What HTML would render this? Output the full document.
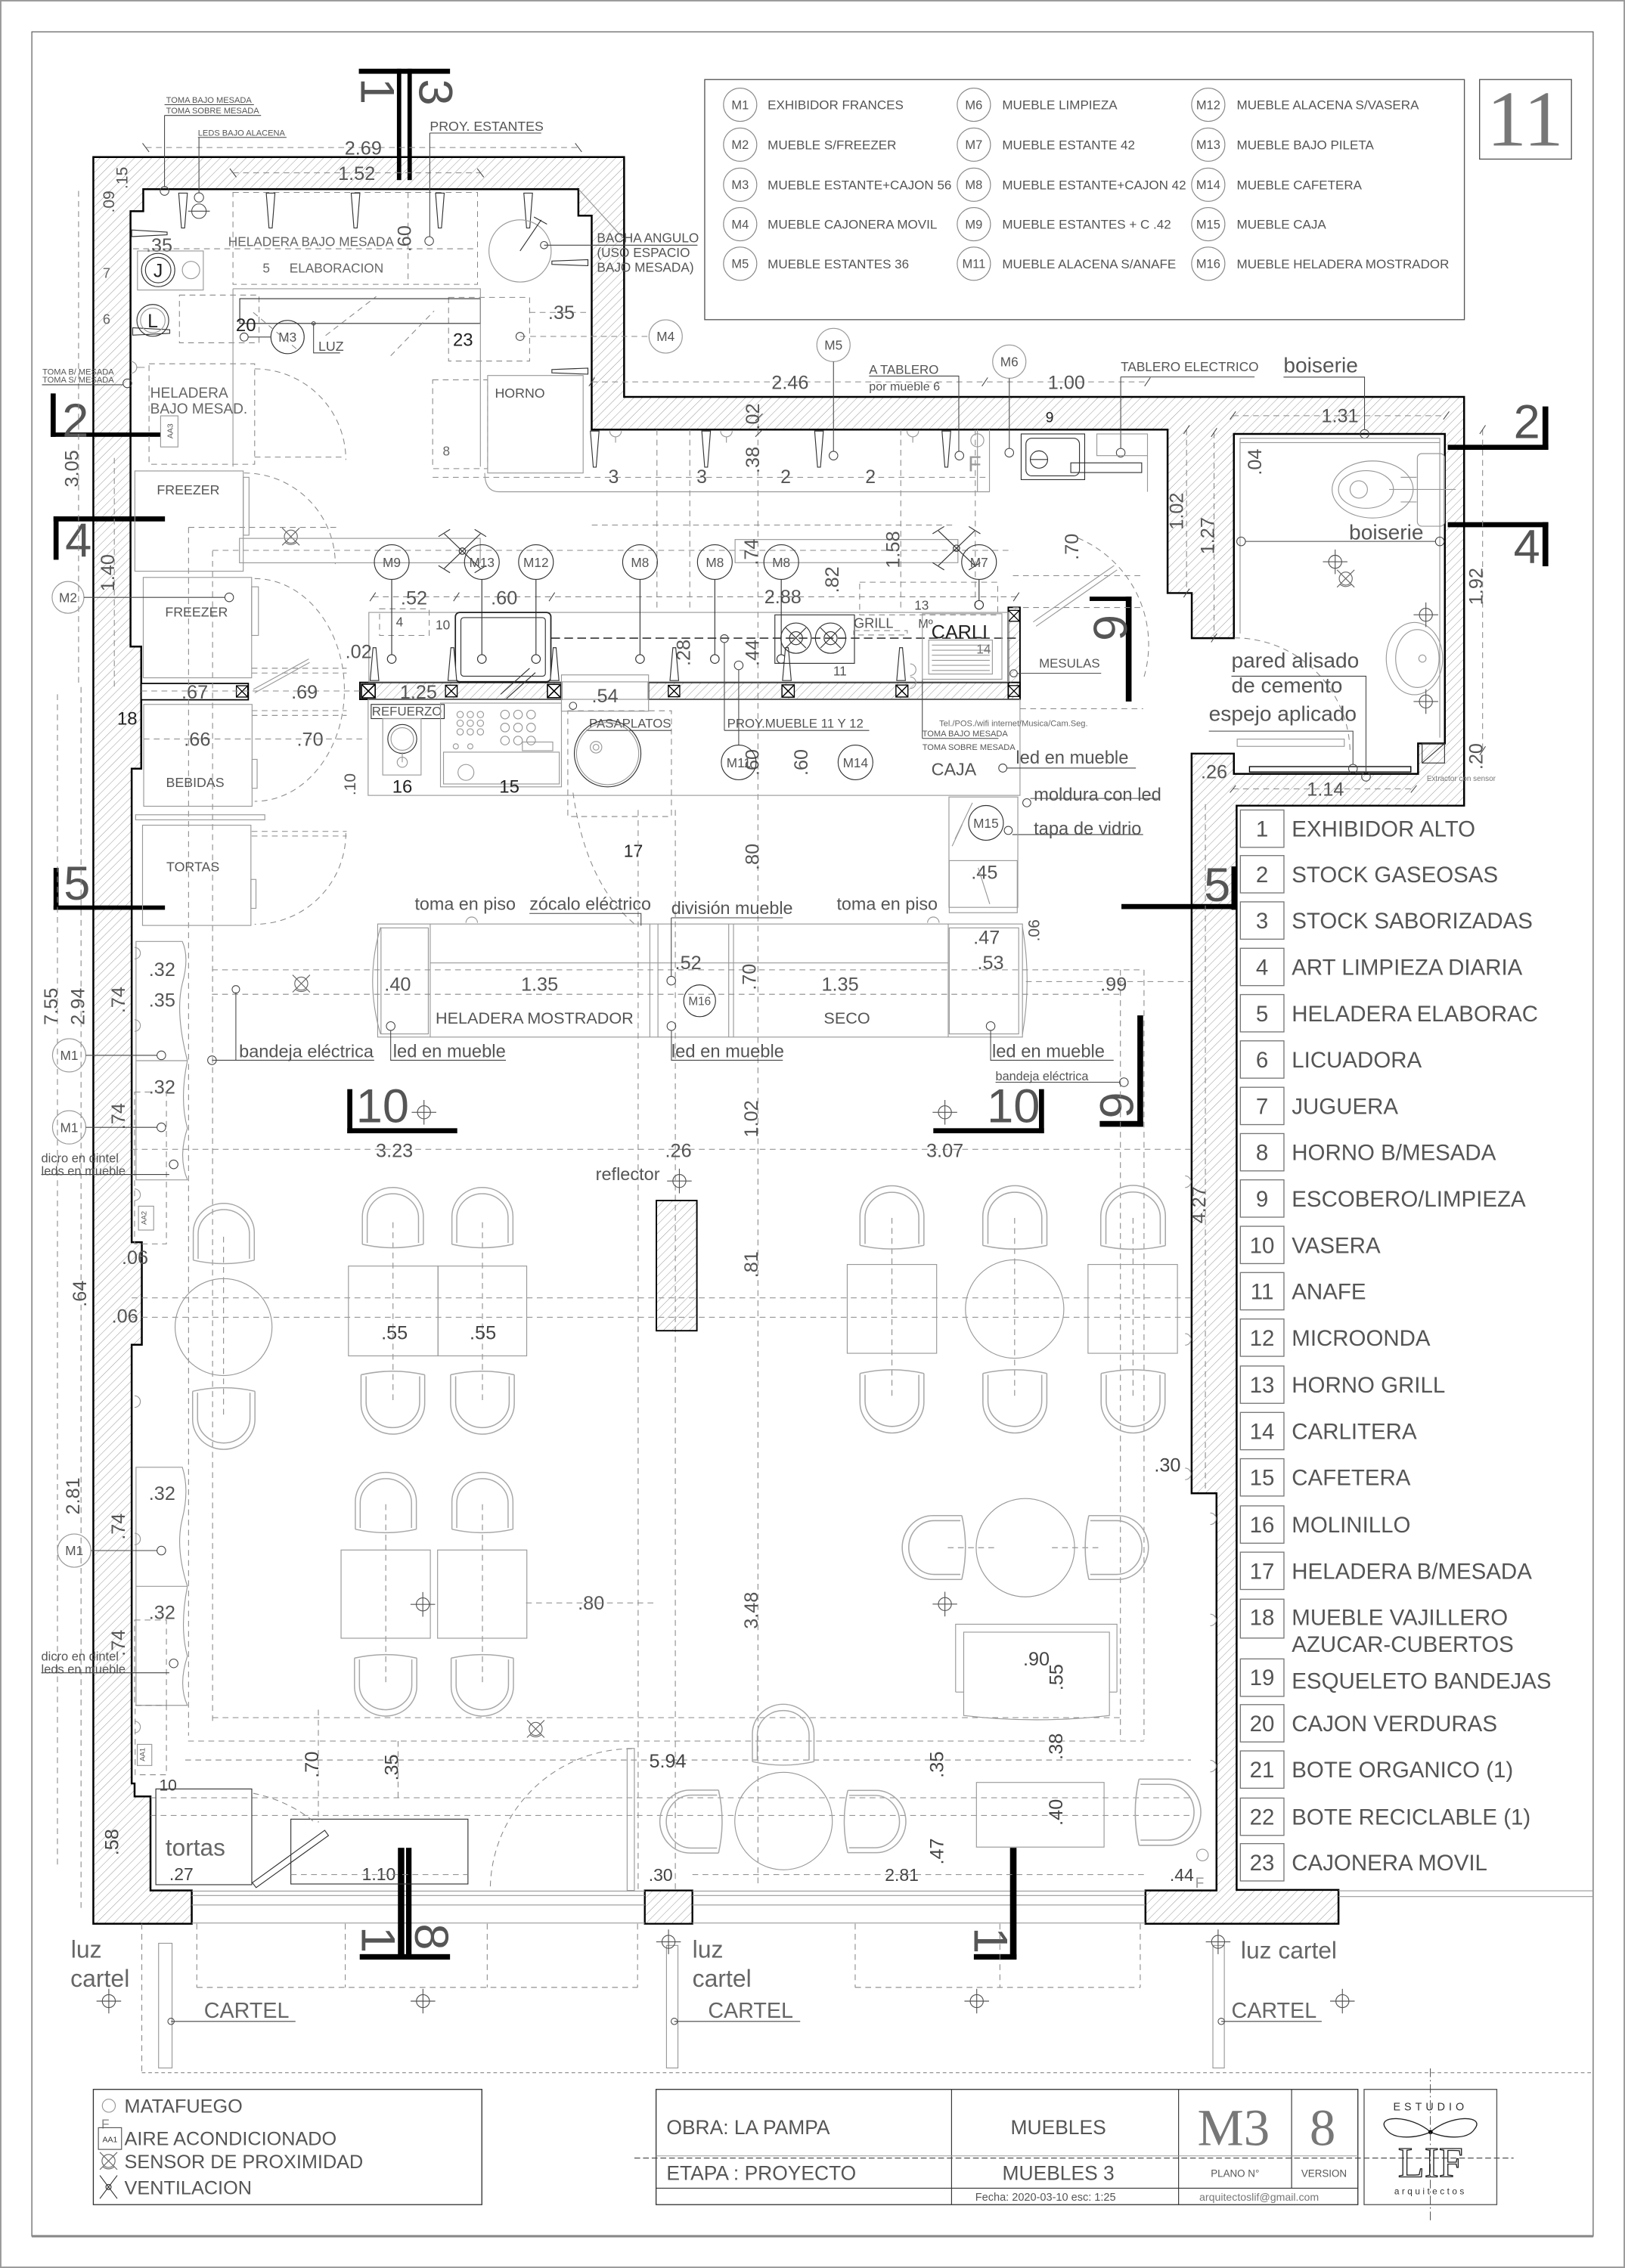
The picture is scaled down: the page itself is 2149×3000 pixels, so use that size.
<!DOCTYPE html>
<html><head><meta charset="utf-8">
<style>
html,body{margin:0;padding:0;background:#fff;}
svg{display:block;}
text{font-family:"Liberation Sans",Arial,sans-serif;fill:#555;}
.sf{font-family:"Liberation Serif","Times New Roman",serif;fill:#000;}
.k{fill:#000}
.lb{font-size:8.9px}
.dm{font-size:13.2px;fill:#444}
.sm{font-size:5.8px;fill:#444}
.big{font-size:14.7px;fill:#555}
.md{font-size:12.4px;fill:#555}
.li{font-size:15.4px;fill:#666}
.mc{font-size:9px;fill:#555}
.w{stroke:#000;stroke-width:1.3;fill:none}
.t{stroke:#333;stroke-width:0.6;fill:none}
.g{stroke:#999;stroke-width:0.6;fill:none}
.d{stroke:#888;stroke-width:0.55;stroke-dasharray:4 3;fill:none}
.dk{stroke:#444;stroke-width:0.9;stroke-dasharray:6 3;fill:none}
.l{stroke:#444;stroke-width:0.55;fill:none}
</style></head><body>
<svg xmlns="http://www.w3.org/2000/svg" width="2149" height="3000" viewBox="0 0 1123 1568" preserveAspectRatio="none">
<defs>
<pattern id="h" patternUnits="userSpaceOnUse" width="4.2" height="4.2" patternTransform="rotate(45)"><line x1="0" y1="0" x2="0" y2="4.2" stroke="#8a8a8a" stroke-width="0.45"/></pattern>
<symbol id="cu" viewBox="0 0 46 48"><g fill="none" stroke="#a8a8a8" stroke-width="0.8"><path d="M1,42 L1,22 A22,21 0 0 1 45,22 L45,42"/><path d="M4.5,41 L4.5,23 A18.5,17.5 0 0 1 41.5,23 L41.5,41"/><path d="M1,42 Q23,47 45,42"/></g></symbol>
<symbol id="cd" viewBox="0 0 46 48"><g fill="none" stroke="#a8a8a8" stroke-width="0.8"><path d="M1,6 L1,26 A22,21 0 0 0 45,26 L45,6"/><path d="M4.5,7 L4.5,25 A18.5,17.5 0 0 0 41.5,25 L41.5,7"/><path d="M1,6 Q23,1 45,6"/></g></symbol>
<symbol id="cl" viewBox="0 0 48 46"><g fill="none" stroke="#a8a8a8" stroke-width="0.8"><path d="M42,1 L22,1 A21,22 0 0 0 22,45 L42,45"/><path d="M41,4.5 L23,4.5 A17.5,18.5 0 0 0 23,41.5 L41,41.5"/><path d="M42,1 Q47,23 42,45"/></g></symbol>
<symbol id="cr" viewBox="0 0 48 46"><g fill="none" stroke="#a8a8a8" stroke-width="0.8"><path d="M6,1 L26,1 A21,22 0 0 1 26,45 L6,45"/><path d="M7,4.5 L25,4.5 A17.5,18.5 0 0 1 25,41.5 L7,41.5"/><path d="M6,1 Q1,23 6,45"/></g></symbol>
<symbol id="xh" viewBox="-9 -9 18 18"><g fill="none" stroke="#555" stroke-width="0.6"><circle r="4.5"/><path d="M-8.5,0 H8.5 M0,-8.5 V8.5"/></g></symbol>
<symbol id="xb" viewBox="0 0 10 10"><g fill="#fff" stroke="#000" stroke-width="0.8"><rect x="0.5" y="0.5" width="9" height="9"/><path d="M0.5,0.5 L9.5,9.5 M9.5,0.5 L0.5,9.5"/></g></symbol>
<symbol id="sn" viewBox="-7 -7 14 14"><g fill="none" stroke="#666" stroke-width="0.6"><circle r="4.5"/><path d="M-6,-6 L6,6 M6,-6 L-6,6 M-4,4 Q0,7 4,4"/></g></symbol>
</defs>

<!-- page frame -->
<rect x="0.5" y="0.5" width="1122" height="1567" fill="none" stroke="#999" stroke-width="1"/>
<rect x="22" y="22" width="1079" height="1524" fill="none" stroke="#555" stroke-width="0.6"/>
<line x1="22" y1="1546" x2="1101" y2="1546" stroke="#888" stroke-width="1.6"/>

<!-- legend box -->
<rect x="487" y="55" width="525" height="166" fill="none" stroke="#555" stroke-width="0.7"/>
<g fill="none" stroke="#888" stroke-width="0.6">
<circle cx="511.5" cy="72.4" r="11.5"/><circle cx="511.5" cy="100" r="11.5"/><circle cx="511.5" cy="127.7" r="11.5"/><circle cx="511.5" cy="155" r="11.5"/><circle cx="511.5" cy="182.3" r="11.5"/>
<circle cx="673" cy="72.4" r="11.5"/><circle cx="673" cy="100" r="11.5"/><circle cx="673" cy="127.7" r="11.5"/><circle cx="673" cy="155" r="11.5"/><circle cx="673" cy="182.3" r="11.5"/>
<circle cx="835" cy="72.4" r="11.5"/><circle cx="835" cy="100" r="11.5"/><circle cx="835" cy="127.7" r="11.5"/><circle cx="835" cy="155" r="11.5"/><circle cx="835" cy="182.3" r="11.5"/>
</g>
<g class="mc" text-anchor="middle" style="font-size:8.6px">
<text x="511.5" y="75.4">M1</text><text x="511.5" y="103">M2</text><text x="511.5" y="130.7">M3</text><text x="511.5" y="158">M4</text><text x="511.5" y="185.3">M5</text>
<text x="673" y="75.4">M6</text><text x="673" y="103">M7</text><text x="673" y="130.7">M8</text><text x="673" y="158">M9</text><text x="673" y="185.3">M11</text>
<text x="835" y="75.4">M12</text><text x="835" y="103">M13</text><text x="835" y="130.7">M14</text><text x="835" y="158">M15</text><text x="835" y="185.3">M16</text>
</g>
<g class="lb">
<text x="530.5" y="75.6">EXHIBIDOR FRANCES</text><text x="530.5" y="103.2">MUEBLE S/FREEZER</text><text x="530.5" y="130.9">MUEBLE ESTANTE+CAJON 56</text><text x="530.5" y="158.2">MUEBLE CAJONERA MOVIL</text><text x="530.5" y="185.5">MUEBLE ESTANTES 36</text>
<text x="692.6" y="75.6">MUEBLE LIMPIEZA</text><text x="692.6" y="103.2">MUEBLE ESTANTE 42</text><text x="692.6" y="130.9">MUEBLE ESTANTE+CAJON 42</text><text x="692.6" y="158.2">MUEBLE ESTANTES + C .42</text><text x="692.6" y="185.5">MUEBLE ALACENA S/ANAFE</text>
<text x="854.7" y="75.6">MUEBLE ALACENA S/VASERA</text><text x="854.7" y="103.2">MUEBLE BAJO PILETA</text><text x="854.7" y="130.9">MUEBLE  CAFETERA</text><text x="854.7" y="158.2">MUEBLE CAJA</text><text x="854.7" y="185.5">MUEBLE HELADERA MOSTRADOR</text>
</g>
<rect x="1022.5" y="55" width="63.5" height="55" fill="none" stroke="#555" stroke-width="0.7"/>
<text class="sf" x="1054" y="100.6" text-anchor="middle" style="font-size:55px;fill:#777">11</text>

<!-- ================= WALLS ================= -->
<path d="M64.5,1330 L64.5,108.6 L431.3,108.6 L431.3,274.4 L1011.8,274.4 L1011.8,557 L854.6,557 L854.6,1306.6 L925,1306.6 L925,1330 L791.6,1330 L791.6,1307 L840.7,1307 L840.7,1032.4 L823.5,1032.4 L823.5,521 L852.7,521 L852.7,535 L980,535 L980,514 L998.5,514 L998.5,300 L852.7,300 L852.7,441.2 L823.6,441.2 L823.6,410 L806.9,410 L806.9,297 L408.9,297 L408.9,149.1 L399.7,149.1 L399.7,130.8 L99,130.8 L99,146 L90.2,146 L90.2,447 L97.6,447 L97.6,531.4 L91,531.4 L91,858.8 L98,858.8 L98,929.7 L91,929.7 L91,1233 L93,1233 L93,1242 L104,1242 L104,1307 L132.5,1307 L132.5,1330 Z" fill="url(#h)" stroke="#000" stroke-width="1.3"/>
<rect x="445.6" y="1307" width="32.9" height="23" fill="url(#h)" stroke="#000" stroke-width="1.2"/>
<!-- kitchen partition -->
<rect x="248.7" y="471.8" width="139.3" height="11.7" fill="url(#h)" stroke="#000" stroke-width="1"/>
<rect x="448.2" y="471.8" width="256.7" height="11.7" fill="url(#h)" stroke="#000" stroke-width="1"/>
<rect x="696.8" y="419.9" width="8.1" height="63.6" fill="url(#h)" stroke="#000" stroke-width="1"/>
<rect x="97.6" y="472.5" width="74" height="11.3" fill="#fff" stroke="#000" stroke-width="0.9"/>
<use href="#xb" x="162.9" y="473" width="8.7" height="10"/>
<use href="#xb" x="248.7" y="472.5" width="11.7" height="10.5"/>
<use href="#xb" x="307.4" y="472.5" width="9" height="10.5"/>
<use href="#xb" x="377.8" y="472.5" width="10.2" height="10.5"/>
<use href="#xb" x="461.4" y="472.5" width="8.8" height="10.5"/>
<use href="#xb" x="539.9" y="472.5" width="9.5" height="10.5"/>
<use href="#xb" x="618.7" y="472.5" width="9.2" height="10.5"/>
<use href="#xb" x="696.5" y="472.5" width="8.4" height="10.5"/>
<use href="#xb" x="696.5" y="420.5" width="8.4" height="10.5"/>

<!-- window / facade -->
<g class="g">
<path d="M132.5,1307.4 H445.6 M132.5,1310.5 H445.6 M132.5,1317 H445.6 M132.5,1329.5 H445.6"/>
<path d="M478.5,1307.4 H791.6 M478.5,1310.5 H791.6 M478.5,1317 H791.6 M478.5,1329.5 H791.6"/>
<path d="M925,1307.2 H1101 M925,1311.2 H1101"/>
</g>

<!-- ================= SECTION MARKERS ================= -->
<g class="k">
<rect x="248" y="47.5" width="63" height="3.5"/><rect x="274.3" y="47.5" width="3" height="77"/><rect x="281.6" y="47.5" width="3" height="77"/>
<rect x="35" y="272" width="3.5" height="30"/><rect x="35" y="299" width="76" height="3"/>
<rect x="37" y="357" width="77" height="3.5"/><rect x="37" y="357" width="3.5" height="30"/>
<rect x="37" y="600" width="3.5" height="29"/><rect x="37" y="626" width="77" height="3"/>
<rect x="1000.5" y="307.5" width="69.5" height="3.5"/><rect x="1066" y="281" width="4" height="30"/>
<rect x="1000.5" y="361" width="69.5" height="3.5"/><rect x="1066" y="361" width="4" height="30.5"/>
<rect x="775" y="625" width="80" height="3.5"/><rect x="851" y="599" width="4" height="30"/>
<rect x="753" y="412.5" width="29" height="3"/><rect x="778" y="412.5" width="4" height="72.5"/>
<rect x="786" y="702" width="4" height="77"/><rect x="760" y="775" width="30" height="4"/>
<rect x="240" y="753" width="3.5" height="30.5"/><rect x="240" y="780" width="76" height="3.5"/>
<rect x="718" y="753" width="3.5" height="30.5"/><rect x="645" y="780" width="76.5" height="3.5"/>
<rect x="275" y="1277.5" width="4.4" height="77"/><rect x="280.6" y="1277.5" width="3.8" height="77"/><rect x="248.6" y="1351" width="62.4" height="3.8"/>
<rect x="698" y="1277.5" width="4.5" height="77"/><rect x="673" y="1351" width="29.5" height="3.8"/>
</g>
<g class="sf" style="font-size:33px">
<text transform="translate(249.4,63) rotate(90)" text-anchor="middle">1</text>
<text transform="translate(289.7,63.8) rotate(90)" text-anchor="middle">3</text>
<text x="43" y="302">2</text><text x="45" y="385">4</text><text x="44" y="622">5</text>
<text x="1046" y="303">2</text><text x="1046" y="389.5">4</text><text x="832" y="623">5</text>
<text transform="translate(756,434) rotate(90)" text-anchor="middle">6</text>
<text transform="translate(760.3,764) rotate(90)" text-anchor="middle">6</text>
<text x="246" y="776">10</text><text x="682" y="776">10</text>
<text transform="translate(250,1341) rotate(90)" text-anchor="middle">1</text>
<text transform="translate(286.8,1339) rotate(90)" text-anchor="middle">8</text>
<text transform="translate(673.4,1341.5) rotate(90)" text-anchor="middle">1</text>
</g>

<!-- ================= TOP LEFT KITCHEN ================= -->
<g class="d">
<path d="M100.8,102 H399.7"/><path d="M161,119.5 H332"/>
<path d="M54.3,132 V475"/><path d="M79,316.6 V475"/>
<rect x="161" y="133" width="169" height="63.6"/><path d="M282,133 V196.6 M92,172 H330"/>
<rect x="124" y="204" width="55" height="33"/><rect x="310" y="205.6" width="56" height="44"/>
<rect x="103" y="251.5" width="73" height="69.5"/><rect x="299" y="262.6" width="38" height="61.4"/>
<path d="M366,216 H408"/><path d="M359.4,232.6 H448"/>
<path d="M176,255 A63,63 0 0 1 239,318"/><path d="M176,316 H239"/>
<path d="M168.7,327 A63,63 0 0 1 231.7,390"/>
<path d="M130.3,364.6 H233 M130.3,364.6 V1200 M146.9,380.8 V1190 M146.9,380.5 H700"/>
<path d="M176,400 A62,77 0 0 1 176,554"/><path d="M239,576 A63,63 0 0 1 176,639"/>
<path d="M173.9,462 H239.6 M173.9,465.3 H239.6 M173.9,491.3 H239.6 M173.9,494.6 H239.6 M173.9,574.8 H239.6 M173.9,578 H239.6"/>
<path d="M97.6,477.7 H252.7 M99.3,510.9 H253.5"/>
</g>
<g class="l">
<path d="M98.5,99 L103,105 M397.5,99 L402,105 M158.8,116.5 L163.3,122.5 M329.8,116.5 L334.3,122.5"/>
</g>
<g class="dm" text-anchor="middle">
<text x="251" y="107">2.69</text><text x="246.5" y="124.5">1.52</text>
<text transform="translate(54,324) rotate(-90)">3.05</text>
<text transform="translate(79,396) rotate(-90)">1.40</text>
<text transform="translate(79,139.5) rotate(-90)" style="font-size:11px">.09</text>
<text transform="translate(88,123) rotate(-90)" style="font-size:11px">.15</text>
<text transform="translate(284,165) rotate(-90)">.60</text>
<text x="110" y="174">.35</text><text x="388" y="220.5">.35</text>
</g>
<!-- fixtures wall top -->
<g fill="#fff" stroke="#333" stroke-width="0.6">
<path d="M123.5,133.5 H129.5 L127.6,157.6 H125.4 Z"/><path d="M184,133.5 H190 L188.1,157.6 H185.9 Z"/><path d="M242.7,133.5 H248.7 L246.8,157.6 H244.6 Z"/><path d="M301,133.5 H307 L305.1,157.6 H302.9 Z"/><path d="M362,133.5 H368 L366.1,157.6 H363.9 Z"/>
<path d="M381.4,180.5 L406.3,179.5 V183.7 L381.4,182.8 Z"/><path d="M381.4,255.5 L406.3,254.5 V258.7 L381.4,257.8 Z"/>
<path d="M91.7,226.6 L117.3,228 V230.5 L91.7,231.7 Z"/><path d="M91,159 L115.5,160.5 V162.3 L91,163.6 Z"/>
</g>
<!-- top-left texts -->
<g class="sm">
<text x="114.8" y="71">TOMA BAJO MESADA</text><text x="114.8" y="78.5">TOMA SOBRE MESADA</text>
<text x="136.8" y="93.8">LEDS BAJO ALACENA</text>
<text x="29.3" y="259">TOMA B/ MESADA</text><text x="29.3" y="264.5">TOMA S/ MESADA</text>
</g>
<g class="l">
<path d="M113.7,72.4 H175.5 M113.7,79.8 H180.4 M113.7,79.8 V129"/><circle cx="113.7" cy="132" r="3"/>
<path d="M136.8,95 H198 M137.5,95 V133"/><circle cx="137.5" cy="136.5" r="3.2"/><circle cx="137.5" cy="146" r="5"/><path d="M130,146 H145"/>
<path d="M297,92 H374 M297,92 V163.5"/><circle cx="296.6" cy="166.6" r="3"/>
<path d="M29,266 H85"/><circle cx="88" cy="265" r="3"/>
</g>
<text x="297" y="90.5" style="font-size:9.3px">PROY. ESTANTES</text>
<text x="157.7" y="170" style="font-size:9px;fill:#666">HELADERA BAJO MESADA</text>
<text x="181.5" y="188.5" style="font-size:9px;fill:#666">5</text><text x="200" y="188.5" style="font-size:9px;fill:#666">ELABORACION</text>
<text x="71" y="192" style="font-size:9.5px;fill:#666">7</text><text x="71" y="224" style="font-size:9.5px;fill:#666">6</text>
<!-- J L -->
<rect x="95" y="173.5" width="45.5" height="27" class="g"/>
<circle cx="109.3" cy="186.7" r="11.5" class="t"/><circle cx="109.3" cy="186.7" r="8.8" class="t"/><circle cx="132" cy="186.7" r="6" class="g"/>
<text x="109.3" y="191.5" text-anchor="middle" style="font-size:13px;fill:#222">J</text>
<circle cx="105.6" cy="221.5" r="11" class="t"/><circle cx="105.6" cy="221.5" r="8.5" class="g"/>
<text x="105.6" y="226.3" text-anchor="middle" style="font-size:13px;fill:#222">L</text>
<!-- bacha -->
<circle cx="359.4" cy="173.5" r="21.5" class="g"/>
<path d="M359.4,173.5 L374,152 M369,150 L378,155" class="t"/>
<path d="M400,131 L431,165" class="g"/>
<circle cx="376" cy="169.5" r="2.5" class="l"/>
<path d="M376,169.5 H412.5 M412.5,169.5 H482" class="l"/>
<text x="412.5" y="167.5" style="font-size:9px">BACHA ANGULO</text><text x="412.5" y="177.8" style="font-size:9px">(USO ESPACIO</text><text x="412.5" y="188" style="font-size:9px">BAJO MESADA)</text>
<!-- bar 20/23 -->
<rect x="165.7" y="206.5" width="166.3" height="17.1" class="t"/>
<path d="M161,199.6 H332 V322.6 M161,199.6 V322.6" class="g"/>
<text x="163" y="229" style="font-size:12.5px;fill:#222">20</text><text x="313" y="239" style="font-size:12.5px;fill:#222">23</text>
<circle cx="198.7" cy="233" r="11.5" class="t"/><text x="198.7" y="236.3" text-anchor="middle" class="mc">M3</text>
<circle cx="168.7" cy="233" r="2.8" class="l"/><path d="M171.5,233 H187.2" class="l"/>
<circle cx="216.7" cy="223.6" r="1.2" class="l"/><path d="M216.7,223.6 V244 H235" class="l"/>
<text x="220" y="242.5" style="font-size:9.3px">LUZ</text>
<path d="M175,216 L207,243 M225,232 L260,205 M270,246 L300,215" class="d"/>
<circle cx="359.4" cy="232.6" r="2.8" class="l"/>
<circle cx="460" cy="232.6" r="11.5" class="g"/><text x="460" y="235.8" text-anchor="middle" class="mc">M4</text>
<!-- horno -->
<rect x="337" y="259.6" width="66" height="67.4" class="g"/>
<text x="342" y="275" style="font-size:9.3px">HORNO</text><text x="306" y="315" style="font-size:9px;fill:#666">8</text>
<!-- heladera bajo mesad -->
<text x="103.8" y="275" style="font-size:10px;fill:#666">HELADERA</text><text x="103.8" y="285.8" style="font-size:10px;fill:#666">BAJO MESAD.</text>
<rect x="111" y="287.5" width="12" height="21.5" class="g"/>
<text transform="translate(119.5,298) rotate(-90)" text-anchor="middle" style="font-size:5.5px">AA3</text>
<!-- outlet left -->
<path d="M90.5,250 A4,4 0 0 1 90.5,258 M94.5,254 H100" class="g"/>

<!-- freezer area -->
<g class="g">
<rect x="93.2" y="325.6" width="74.9" height="69.3"/><rect x="99" y="399.2" width="74.9" height="69.4"/>
<rect x="168.1" y="330" width="4" height="40"/><rect x="173.9" y="405.7" width="4.7" height="33.6"/>
<rect x="99.3" y="487" width="74.9" height="70.4"/><rect x="93.7" y="563.3" width="89.3" height="3.5"/><rect x="98.5" y="570.5" width="74.9" height="69.3"/>
<rect x="174.2" y="525" width="3.5" height="20"/><rect x="173.4" y="608" width="3.5" height="20"/>
<path d="M175.1,476.6 L213.4,455.6 M176,479 L214,458"/>
</g>
<g style="font-size:9.3px;fill:#666">
<text x="108.4" y="341.8">FREEZER</text><text x="114.1" y="426.3">FREEZER</text><text x="114.7" y="544">BEBIDAS</text><text x="115" y="602.5">TORTAS</text>
</g>
<text x="81" y="501" style="font-size:12.5px;fill:#222">18</text>
<g class="dm" text-anchor="middle">
<text x="134.6" y="483">.67</text><text x="210.4" y="483">.69</text><text x="136.3" y="515.6">.66</text><text x="214.3" y="515.6">.70</text>
</g>
<circle cx="47" cy="413" r="11" class="g"/><text x="47" y="416.2" text-anchor="middle" class="mc">M2</text>
<path d="M58,413 H155.4" class="l"/><circle cx="158.4" cy="413" r="3" class="l"/>
<use href="#sn" x="194" y="364" width="14" height="14"/>
<rect x="165.5" y="372.2" width="166.4" height="16.9" class="g"/>
<rect x="508" y="373" width="154" height="16" class="g"/>
<!-- fans -->
<g class="t"><path d="M307,369 L332,393 M332,369 L307,393 M303,371 L311,366 M328,396 L336,391 M328,366 L336,371 M303,391 L311,396"/><circle cx="319.5" cy="381" r="2.2"/></g>
<g class="t"><path d="M648.5,367 L673.5,391 M673.5,367 L648.5,391 M644.5,369 L652.5,364 M669.5,394 L677.5,389 M669.5,364 L677.5,369 M644.5,389 L652.5,394"/><circle cx="661" cy="379" r="2.2"/></g>

<!-- ================= CORRIDOR ================= -->
<g class="d">
<path d="M409,264 H793"/><path d="M299,330 H684"/><path d="M409,363 H660"/>
<path d="M454,297 V420 M476.7,297 V420 M523.8,297 V1305 M622.5,297 V420 M674,297 V420"/>
<path d="M524,286 V297 M820,297 V410 M839,299 V441 M1024.6,297 V519"/>
<path d="M852,287.4 H999.5 M852,545.4 H977"/>
<path d="M833,556 V1032"/>
</g>
<g class="l"><path d="M407,267 L411,261 M678.6,267 L682.6,261 M791,267 L795,261 M522,291 L527,286 M522,302 L527,297 M850,290 L854,284.5 M997.5,290 L1001.5,284.5 M818,300 L822,294 M818,413 L822,407 M837,302 L841,296 M837,444 L841,438 M1022.6,300 L1026.6,294 M1022.6,522 L1026.6,516 M850,548 L854,543 M975,548 L979,543"/></g>
<g class="dm" text-anchor="middle">
<text x="546" y="269">2.46</text><text x="737" y="269">1.00</text>
<text transform="translate(524.6,288) rotate(-90)">.02</text><text transform="translate(524.6,318) rotate(-90)">.38</text>
<text x="926" y="292">1.31</text>
<text transform="translate(817.6,353.4) rotate(-90)">1.02</text><text transform="translate(839,370.4) rotate(-90)">1.27</text>
<text transform="translate(871.7,319.4) rotate(-90)">.04</text>
<text transform="translate(1024.6,405.4) rotate(-90)">1.92</text><text transform="translate(1024.6,523) rotate(-90)">.20</text>
<text x="839" y="538">.26</text><text x="916" y="550">1.14</text>
<text transform="translate(832.9,833) rotate(-90)">4.27</text>
</g>
<g style="font-size:13px;fill:#444" text-anchor="middle"><text x="424" y="334">3</text><text x="485" y="334">3</text><text x="543" y="334">2</text><text x="601.6" y="334">2</text></g>
<g fill="#fff" stroke="#333" stroke-width="0.6">
<path d="M408,298 H414 L412,323 H410 Z"/><path d="M485,298 H491 L489,323 H487 Z"/><path d="M563,298 H569 L567,323 H565 Z"/><path d="M651,298 H657 L655,323 H653 Z"/>
</g>
<g class="g"><path d="M421.4,298 A4,4 0 0 0 429.4,298 M425.4,302 V306"/><path d="M498,298 A4,4 0 0 0 506,298 M502,302 V306"/><path d="M626.8,298 A4,4 0 0 0 634.8,298 M630.8,302 V306"/></g>
<path d="M335,327 Q335,340 345,340 H684" class="g"/>
<path d="M683.8,297 V340 M675.5,297 V340 M793,315 V340" class="g"/>
<circle cx="576" cy="238.5" r="11.5" class="g"/><text x="576" y="241.7" text-anchor="middle" class="mc">M5</text>
<circle cx="697.5" cy="250" r="11.5" class="g"/><text x="697.5" y="253.2" text-anchor="middle" class="mc">M6</text>
<g class="l">
<path d="M576,250 V312 M697.5,261.5 V310 M600.6,260 H662.6 V312 M774.5,260.6 H867 M774.5,260.6 V310"/>
<circle cx="576" cy="315" r="3"/><circle cx="697.5" cy="313" r="3"/><circle cx="663" cy="315" r="3"/><circle cx="774.5" cy="313" r="3"/>
</g>
<text x="600.6" y="258.5" style="font-size:8.8px">A TABLERO</text><text x="600.6" y="270" style="font-size:8.4px">por mueble 6</text>
<text x="774.5" y="256.5" style="font-size:9px">TABLERO ELECTRICO</text>
<text x="722.6" y="292" style="font-size:10px;fill:#222">9</text>
<rect x="705.7" y="300" width="43.9" height="31.6" class="t"/><rect x="709" y="303" width="37" height="26" rx="4" class="t"/>
<circle cx="718" cy="317.7" r="6" class="t"/><path d="M712,317.7 H724" class="t"/>
<rect x="740" y="320" width="49" height="6.7" class="t"/>
<rect x="758" y="300" width="35" height="15" class="g"/>
<circle cx="675.4" cy="304.4" r="4.5" class="g"/>
<text x="669" y="326" style="font-size:15px;fill:#999">F</text>
<text x="887" y="257.5" class="big">boiserie</text>
<path d="M887,260.7 H943 V297" class="l"/><circle cx="943" cy="300" r="3" class="l"/>

<!-- ================= BATHROOM ================= -->
<rect x="857" y="303" width="138" height="3" class="g"/>
<path d="M857,306 V438 M995,306 V510" class="g"/>
<rect x="979.5" y="313.6" width="18.8" height="50.2" rx="3" class="g"/>
<ellipse cx="948.6" cy="338.4" rx="28" ry="19.7" class="g"/><ellipse cx="944" cy="338.4" rx="19" ry="13" class="g"/><circle cx="939" cy="338.4" r="6" class="g"/>
<path d="M968,330 H979 M968,347 H979 M960,338.4 H1006" class="g"/>
<text x="932.3" y="373" class="big">boiserie</text>
<path d="M860.7,374.3 H992" class="l"/><circle cx="857.7" cy="374.3" r="3" class="l"/><circle cx="995" cy="374.3" r="3" class="l"/>
<use href="#xh" x="913.7" y="379.4" width="18" height="18"/>
<use href="#sn" x="923" y="393" width="14" height="14"/>
<ellipse cx="977.5" cy="455.3" rx="19.5" ry="25" class="g"/><ellipse cx="979.5" cy="455.3" rx="15" ry="20" class="g"/><circle cx="983" cy="455.3" r="2.5" class="g"/>
<use href="#xh" x="976.4" y="416" width="18" height="18"/><use href="#xh" x="976.4" y="476" width="18" height="18"/>
<path d="M853,441 A80,80 0 0 1 933,521" class="d"/>
<rect x="855" y="511" width="74" height="5" class="g"/>
<rect x="863.5" y="530" width="111.5" height="3.7" fill="none" stroke="#000" stroke-width="0.7"/>
<rect x="982.8" y="514" width="15.5" height="13.5" class="t"/><path d="M982.8,527.5 L998.3,514" class="t"/>
<text x="986" y="540" style="font-size:5.2px;fill:#777">Extractor con sensor</text>
<text x="851" y="461.4" class="big">pared alisado</text><text x="851" y="478.8" class="big">de cemento</text><text x="835.4" y="498.4" class="big">espejo aplicado</text>
<path d="M851,467.5 H944 V534 M835.4,505.5 H935 V528.4" class="l"/>
<circle cx="944" cy="537" r="3" class="l"/><circle cx="935" cy="531.4" r="3" class="l"/>

<!-- ================= KITCHEN WORK ZONE ================= -->
<g class="g">
<rect x="254.9" y="423.4" width="441.9" height="48"/>
<rect x="254.4" y="483.5" width="450.5" height="66.4"/>
</g>
<g class="d">
<path d="M257.6,412.6 H702.3"/>
<rect x="262.3" y="420.9" width="34.3" height="18.4"/><rect x="594.1" y="402.5" width="95.4" height="22.6"/>
<rect x="392.4" y="491.4" width="71.6" height="73.1"/>
<path d="M745,372 A80,80 0 0 1 790,470"/><path d="M396,548 Q405,612 440,640"/>
<path d="M700,398 H790 M700,420 H790 M705,490 H790"/>
</g>
<path d="M381,441.2 H702" class="dk"/>
<g class="l"><path d="M255.6,415.6 L259.6,409.6 M313.4,415.6 L317.4,409.6 M379.4,415.6 L383.4,409.6 M700.3,415.6 L704.3,409.6"/></g>
<g class="dm" text-anchor="middle">
<text x="286.1" y="417.8">.52</text><text x="348.4" y="417.8">.60</text><text x="541" y="417">2.88</text>
<text transform="translate(523.7,381.6) rotate(-90)">.74</text><text transform="translate(579.5,400.8) rotate(-90)">.82</text>
<text transform="translate(621.6,380) rotate(-90)">1.58</text><text transform="translate(745.2,378) rotate(-90)">.70</text>
<text transform="translate(476.8,451.3) rotate(-90)">.28</text><text transform="translate(524.5,451.3) rotate(-90)">.44</text>
<text x="247.8" y="455">.02</text><text x="289.2" y="483">1.25</text><text x="418.1" y="485.5">.54</text>
<text transform="translate(245.7,542.3) rotate(-90)" style="font-size:11px">.10</text>
<text transform="translate(524.5,527.1) rotate(-90)">.60</text><text transform="translate(558.2,527.1) rotate(-90)">.60</text>
<text transform="translate(524.5,592.4) rotate(-90)">.80</text>
<text x="680.3" y="607.5">.45</text>
</g>
<!-- M circles row -->
<g class="t">
<circle cx="270.7" cy="388.6" r="12"/><circle cx="333" cy="388.6" r="12"/><circle cx="370.4" cy="388.6" r="12"/><circle cx="442.3" cy="388.6" r="12"/><circle cx="494" cy="388.6" r="12"/><circle cx="539.9" cy="388.6" r="12"/><circle cx="676.6" cy="388.6" r="12"/>
<path d="M270.7,400.6 V452.6 M333,400.6 V452.6 M370.4,400.6 V452.6 M442.3,400.6 V452.6 M494,400.6 V452.6 M539.9,400.6 V452.6 M676.6,400.6 V415"/>
<circle cx="270.7" cy="455.6" r="3"/><circle cx="333" cy="455.6" r="3"/><circle cx="370.4" cy="455.6" r="3"/><circle cx="442.3" cy="455.6" r="3"/><circle cx="494" cy="455.6" r="3"/><circle cx="539.9" cy="455.6" r="3"/><circle cx="676.6" cy="418.2" r="3"/>
</g>
<g class="mc" text-anchor="middle">
<text x="270.7" y="391.9">M9</text><text x="333" y="391.9">M13</text><text x="370.4" y="391.9">M12</text><text x="442.3" y="391.9">M8</text><text x="494" y="391.9">M8</text><text x="539.9" y="391.9">M8</text><text x="676.6" y="391.9">M7</text>
</g>
<text x="273.6" y="433" style="font-size:9px">4</text><text x="301" y="435" style="font-size:9px">10</text>
<!-- sink -->
<rect x="314.7" y="423.4" width="66" height="47.9" rx="3" fill="none" stroke="#222" stroke-width="0.9"/>
<rect x="318.5" y="427" width="58.4" height="40.5" rx="2" class="t"/>
<path d="M346,480 L366,462 M350,483 L370,465" class="t"/>
<!-- wall lights -->
<g fill="#fff" stroke="#333" stroke-width="0.6">
<path d="M255.8,470.5 H261.8 L259.8,447.8 H257.8 Z"/><path d="M309.6,470.5 H315.6 L313.6,447.8 H311.6 Z"/><path d="M380.3,470.5 H386.3 L384.3,447.8 H382.3 Z"/><path d="M463,470.5 H469 L467,447.8 H465 Z"/><path d="M540.8,470.5 H546.8 L544.8,447.8 H542.8 Z"/><path d="M619.7,470.5 H625.7 L623.7,447.8 H621.7 Z"/>
</g>
<!-- cooktop -->
<rect x="535.5" y="425.1" width="55" height="33.5" class="t"/>
<g class="t"><circle cx="550.1" cy="441.2" r="10.5"/><circle cx="550.1" cy="441.2" r="4.5"/><path d="M543,434 L557,448 M557,434 L543,448"/><circle cx="574" cy="441.2" r="10.5"/><circle cx="574" cy="441.2" r="4.5"/><path d="M567,434 L581,448 M581,434 L567,448"/></g>
<text x="575.8" y="467" style="font-size:9px">11</text><text x="631.9" y="421.5" style="font-size:9px">13</text>
<text x="590" y="434" style="font-size:9.5px">GRILL</text><text x="634.5" y="434" style="font-size:8.5px">Mº</text>
<rect x="590" y="436" width="37" height="3" class="d"/>
<rect x="637.4" y="424.3" width="55" height="45.3" class="g"/>
<text x="643.6" y="441.5" style="font-size:13.2px;fill:#222">CARLI</text>
<rect x="641.8" y="442.5" width="44" height="23.5" class="g"/>
<path d="M644,446 H684 M644,449.5 H684 M644,453 H684 M644,456.5 H684 M644,460 H684 M644,463.5 H684" class="g"/>
<text x="674.8" y="451.8" style="font-size:9px;fill:#777">14</text>
<circle cx="700.5" cy="465.5" r="2.5" class="l"/><path d="M703,465.5 H761" class="l"/>
<text x="718.1" y="461.5" style="font-size:8.8px">MESULAS</text>
<g class="g"><path d="M629,459 A4,4 0 0 1 629,467 M629,468 A4,4 0 0 1 629,476"/></g>
<!-- front counter -->
<rect x="256.5" y="487" width="50.5" height="9.8" class="t"/>
<text x="257" y="494.6" style="font-size:8.8px">REFUERZO</text>
<rect x="264.5" y="496.8" width="26.5" height="39" class="g"/>
<circle cx="278" cy="510.9" r="10" class="t"/><circle cx="278" cy="510.9" r="7.8" class="g"/><circle cx="278" cy="527" r="3.5" class="g"/><path d="M278,520 V527" class="g"/>
<text x="278" y="548" text-anchor="middle" style="font-size:12.5px;fill:#222">16</text>
<rect x="304.4" y="486.1" width="83.6" height="57.9" class="g"/>
<rect x="306.5" y="520" width="80" height="22" class="g"/>
<g class="g">
<circle cx="318" cy="494" r="2.2"/><circle cx="325" cy="494" r="2.2"/><circle cx="332" cy="494" r="2.2"/><circle cx="318" cy="500" r="2.2"/><circle cx="325" cy="500" r="2.2"/><circle cx="332" cy="500" r="2.2"/><circle cx="318" cy="506" r="2.2"/><circle cx="325" cy="506" r="2.2"/><circle cx="332" cy="506" r="2.2"/>
<circle cx="349" cy="494" r="3"/><circle cx="358" cy="494" r="3"/><circle cx="367" cy="494" r="3"/><circle cx="349" cy="503" r="3"/><circle cx="358" cy="503" r="3"/><circle cx="367" cy="503" r="3"/><circle cx="349" cy="512" r="3"/><circle cx="358" cy="512" r="3"/><circle cx="367" cy="512" r="3"/>
<circle cx="315" cy="516" r="1.8"/><circle cx="325" cy="516" r="1.8"/><rect x="361" y="513" width="21" height="6"/><circle cx="322" cy="534" r="5.5"/>
</g>
<text x="352" y="548" text-anchor="middle" style="font-size:12.5px;fill:#222">15</text>
<rect x="388" y="466.6" width="60.2" height="25.1" class="g"/>
<text x="407.1" y="503" style="font-size:8.8px">PASAPLATOS</text><path d="M405,505 H464" class="l"/>
<circle cx="396" cy="488" r="2.5" class="l"/>
<circle cx="419.9" cy="521" r="23" class="t"/><circle cx="419.9" cy="521" r="21.5" class="g"/><circle cx="411.9" cy="516.6" r="4" class="g"/><circle cx="411.9" cy="516.6" r="2" class="g"/>
<text x="431" y="592.5" style="font-size:12px;fill:#222">17</text>
<text x="502.5" y="503" style="font-size:8.8px">PROY.MUEBLE 11 Y 12</text><path d="M500.6,505 H600.7 M500.6,444 V505" class="l"/><circle cx="500.6" cy="441.5" r="2.7" class="l"/>
<circle cx="510.5" cy="527.1" r="12" class="t"/><text x="510.5" y="530.4" text-anchor="middle" class="mc">M11</text>
<path d="M510.5,515 V463" class="l"/><circle cx="510.5" cy="460" r="3" class="l"/>
<circle cx="591.2" cy="527.1" r="12" class="t"/><text x="591.2" y="530.4" text-anchor="middle" class="mc">M14</text>
<text x="649.1" y="502" style="font-size:5.8px;fill:#666">Tel./POS./wifi internet/Musica/Cam.Seg.</text>
<text x="637.4" y="509" style="font-size:5.8px;fill:#555">TOMA BAJO MESADA</text><text x="637.4" y="518.4" style="font-size:5.8px;fill:#555">TOMA SOBRE MESADA</text>
<path d="M637.4,510.5 H690 M637.4,510.5 V470" class="l"/>
<text x="643.6" y="536" style="font-size:12.2px">CAJA</text>
<circle cx="693" cy="531" r="2.8" class="l"/><path d="M695.8,531 H785" class="l"/>
<text x="702" y="528" class="md">led en mueble</text>
<circle cx="709.6" cy="555" r="2.8" class="l"/><path d="M712,552 H800" class="l"/>
<text x="714.4" y="553.5" class="md">moldura con led</text>
<circle cx="696.8" cy="574.1" r="2.8" class="l"/><path d="M699.6,577 H790" class="l"/>
<text x="714.4" y="577" class="md">tapa de vidrio</text>
<rect x="655.8" y="551" width="47.6" height="76.3" class="g"/>
<path d="M660,580 L672,555 M658,585 L665,570" class="g"/>
<circle cx="681.4" cy="568.9" r="12" class="t"/><text x="681.4" y="572.2" text-anchor="middle" class="mc">M15</text>
<!-- arcs hall top -->
<path d="M714,430 L770,391 M716,433 L772,394" class="g"/>

<!-- ================= COUNTER ISLAND ================= -->
<g class="g">
<rect x="261" y="638.8" width="445.6" height="78.2"/>
<path d="M297.3,665.7 H655.3"/>
<path d="M297.3,638.8 V717 M449.1,638.8 V717 M454.7,638.8 V717 M503.6,638.8 V717 M506.9,638.8 V717 M655.3,638.8 V717"/>
<rect x="263.3" y="641.5" width="32.7" height="73.3"/><rect x="656" y="641.5" width="48" height="73.3"/>
<path d="M263,641 Q252,678 263,715 M706.6,641 Q713,678 706.6,715"/>
<rect x="656" y="595" width="47" height="36"/><path d="M676,600 L684,625"/>
</g>
<g class="d">
<path d="M146.5,670.5 H790.6 M146.5,687.4 H774.3 M709,678.6 H823"/>
<path d="M774.3,670.5 V1203 M790.6,670.5 V1203"/>
<path d="M91,794.6 H823"/>
<path d="M441,560 V1307 M466.7,560 V1307"/>
</g>
<g class="g"><path d="M322,638 A4,4 0 0 1 330,638 M641,638 A4,4 0 0 1 649,638"/></g>
<text x="286.6" y="629" style="font-size:12.2px">toma en piso</text>
<text x="365.9" y="629" style="font-size:12.2px">zócalo eléctrico</text>
<path d="M365.9,631.5 H443 V640" class="l"/>
<text x="463.9" y="632" style="font-size:12.2px">división mueble</text>
<path d="M463.9,634.5 H541 M463.9,634.5 V675" class="l"/><circle cx="463.9" cy="678" r="3" class="l"/>
<text x="578.2" y="629" style="font-size:12.2px">toma en piso</text>
<text x="369.4" y="707.8" text-anchor="middle" style="font-size:11.3px;fill:#555">HELADERA MOSTRADOR</text>
<text x="585.3" y="707.8" text-anchor="middle" style="font-size:11.3px;fill:#555">SECO</text>
<circle cx="483.5" cy="691.9" r="11" class="t"/><text x="483.5" y="694.9" text-anchor="middle" style="font-size:8px">M16</text>
<use href="#sn" x="201.2" y="673" width="14" height="14"/>
<g class="dm" text-anchor="middle">
<text x="274.8" y="685">.40</text><text x="372.9" y="685">1.35</text><text x="580.6" y="685">1.35</text>
<text x="475.6" y="670">.52</text><text x="684.6" y="670">.53</text><text x="681.8" y="652.6">.47</text>
<text transform="translate(522.2,675.4) rotate(-90)">.70</text>
<text transform="translate(718.2,643.3) rotate(-90)" style="font-size:11px">.06</text>
<text x="769.6" y="685">.99</text>
<text x="272.6" y="800">3.23</text><text x="468.8" y="800">.26</text><text x="653" y="800">3.07</text>
<text transform="translate(523.6,773.5) rotate(-90)">1.02</text>
<text transform="translate(523.6,874.3) rotate(-90)">.81</text>
<text transform="translate(523.5,1113.4) rotate(-90)">3.48</text>
<text x="408.5" y="1112.8">.80</text>
</g>
<path d="M363.5,1108.2 H453.4" class="d"/>
<text x="165.2" y="731" style="font-size:12.3px">bandeja eléctrica</text>
<path d="M146.5,733 H258.6 M163,686 V733" class="l"/><circle cx="146.5" cy="733" r="3" class="l"/><circle cx="163" cy="684" r="2.6" class="l"/>
<text x="271.6" y="731" class="md">led en mueble</text><path d="M270,712.4 V733 H349.6" class="l"/><circle cx="270" cy="709.4" r="3" class="l"/>
<text x="464" y="731" class="md">led en mueble</text><path d="M464,712.4 V733 H541" class="l"/><circle cx="464" cy="709.4" r="3" class="l"/>
<text x="685.6" y="731" class="md">led en mueble</text><path d="M684.6,712.4 V733 H769.6" class="l"/><circle cx="684.6" cy="709.4" r="3" class="l"/>
<text x="688" y="747" style="font-size:8.5px">bandeja eléctrica</text><path d="M688,748.2 H773.7" class="l"/><circle cx="776.7" cy="748.2" r="3" class="l"/>
<use href="#xh" x="284" y="760" width="18" height="18"/>
<use href="#xh" x="644" y="760" width="18" height="18"/>
<text x="456" y="816" text-anchor="end" style="font-size:12.3px">reflector</text>
<use href="#xh" x="460.5" y="807.5" width="18" height="18"/>
<rect x="453.6" y="830" width="28" height="90" fill="url(#h)" stroke="#000" stroke-width="1"/>

<!-- ================= LEFT WALL (M1) ================= -->
<g class="d">
<path d="M39.7,480 V1290 M56,475 V1320"/>
<path d="M91,897.3 H823 M91,910.7 H823"/>
</g>
<g class="dm" text-anchor="middle">
<text transform="translate(39.7,695.8) rotate(-90)">7.55</text><text transform="translate(58.3,695.8) rotate(-90)">2.94</text>
<text transform="translate(86.3,691.3) rotate(-90)">.74</text><text transform="translate(86.3,771.8) rotate(-90)">.74</text>
<text transform="translate(59.5,894.4) rotate(-90)">.64</text><text transform="translate(54.8,1034.3) rotate(-90)">2.81</text>
<text transform="translate(86.3,1055.4) rotate(-90)">.74</text><text transform="translate(86.3,1135.9) rotate(-90)">.74</text>
<text x="112" y="674.7">.32</text><text x="112" y="695.9">.35</text><text x="112" y="756">.32</text>
<text x="93.3" y="874">.06</text><text x="86.3" y="914.3">.06</text>
<text x="112" y="1037">.32</text><text x="112" y="1119.4">.32</text>
</g>
<g class="g">
<path d="M94,650.9 H126 Q131,662 126,680 Q121,700 129.5,733.3 Q124,760 129.5,780 Q123,800 129.5,815.7 H94 Z M94,733.3 H129.5"/>
<path d="M94,1014.4 H126 Q131,1030 126,1050 Q121,1070 129.5,1096.7 Q124,1125 129.5,1145 Q123,1165 129.5,1179 H94 Z M94,1096.7 H129.5"/>
<rect x="95.7" y="833.9" width="10.5" height="16.5"/>
<rect x="94.9" y="1206" width="10" height="14.6"/>
<path d="M93,655 A4,4 0 0 1 93,663 M93,705 A4,4 0 0 1 93,713 M93,822 A4,4 0 0 1 93,830 M93,965 A4,4 0 0 1 93,973 M93,1060 A4,4 0 0 1 93,1068 M93,1190 A4,4 0 0 1 93,1198"/>
</g>
<rect x="93" y="755" width="22" height="105" class="d"/><rect x="93" y="1120" width="22" height="59" class="d"/><rect x="93.4" y="1179" width="21.6" height="48" class="d"/>
<text transform="translate(101,842) rotate(-90)" text-anchor="middle" style="font-size:5px">AA2</text>
<text transform="translate(100,1213) rotate(-90)" text-anchor="middle" style="font-size:5px">AA1</text>
<circle cx="47.8" cy="729.6" r="11.5" class="g"/><text x="47.8" y="732.8" text-anchor="middle" class="mc">M1</text>
<circle cx="47.8" cy="779.4" r="11.5" class="g"/><text x="47.8" y="782.6" text-anchor="middle" class="mc">M1</text>
<circle cx="51.3" cy="1072" r="11.5" class="g"/><text x="51.3" y="1075.2" text-anchor="middle" class="mc">M1</text>
<g class="l"><path d="M59.3,729.6 H108.5 M59.3,779.4 H108.5 M62.8,1072 H108.5 M28.5,812 H117"/><circle cx="111.5" cy="729.6" r="3"/><circle cx="111.5" cy="779.4" r="3"/><circle cx="111.5" cy="1072" r="3"/><circle cx="120" cy="805" r="3"/><path d="M28.5,1156.5 H117"/><circle cx="120" cy="1150" r="3"/></g>
<text x="28.5" y="803.5" style="font-size:8.6px">dicro en dintel</text><text x="28.5" y="812.5" style="font-size:8.6px">leds en mueble</text>
<text x="28.5" y="1148" style="font-size:8.6px">dicro en dintel</text><text x="28.5" y="1157" style="font-size:8.6px">leds en mueble</text>

<!-- ================= SEATING ================= -->
<g class="d">
<path d="M146.8,1187.5 H774.3 M130,1203.7 H790.6 M128,1216.8 H823 M104,1242.9 H823 M104,1255.1 H823"/>
<path d="M154.5,855 V980 M271.6,845 V968 M333.4,845 V968 M266.6,1040 V1165 M333.4,1040 V1165 M616.4,842 V968 M701.2,842 V968 M783,842 V968"/>
<path d="M655,1070 H690 M727,1070 H760"/>
</g>
<use href="#cu" x="131.9" y="831" width="45.5" height="46"/>
<circle cx="154.5" cy="917.5" r="33.5" class="g"/>
<use href="#cd" x="131.9" y="956" width="45.5" height="47"/>
<use href="#cu" x="248.5" y="820" width="46" height="46"/><use href="#cu" x="310.4" y="820" width="46" height="46"/>
<rect x="240.8" y="875.3" width="61.9" height="62.1" class="g"/><rect x="302.7" y="875.3" width="61.3" height="62.1" class="g"/>
<use href="#cd" x="248.5" y="944" width="46" height="49"/><use href="#cd" x="310.4" y="944" width="46" height="49"/>
<text x="272.6" y="926" text-anchor="middle" class="dm">.55</text><text x="333.7" y="926" text-anchor="middle" class="dm">.55</text>
<use href="#cu" x="243.9" y="1017" width="45.5" height="46"/><use href="#cu" x="310.4" y="1017" width="46" height="46"/>
<rect x="235.7" y="1071.6" width="61.7" height="61" class="g"/><rect x="302.4" y="1071.6" width="61.7" height="61" class="g"/>
<use href="#cd" x="244" y="1139.6" width="45" height="48.7"/><use href="#cd" x="310.8" y="1139.6" width="45" height="48.7"/>
<use href="#xh" x="283.2" y="1100.2" width="18" height="18"/>
<use href="#cu" x="593.3" y="818.2" width="46.2" height="49.4"/><use href="#cu" x="678.2" y="818.2" width="46.3" height="49.4"/><use href="#cu" x="759.7" y="818.2" width="46.7" height="49.4"/>
<rect x="585.5" y="874.2" width="61.8" height="61.4" class="g"/><circle cx="701.2" cy="905" r="34" class="g"/><rect x="751.9" y="874.2" width="61.8" height="61.4" class="g"/>
<use href="#cd" x="593.3" y="943.5" width="46.2" height="48.2"/><use href="#cd" x="678.2" y="943.5" width="46.3" height="48.2"/><use href="#cd" x="759.7" y="943.5" width="46.7" height="48.2"/>
<text x="806.8" y="1017.5" text-anchor="middle" class="dm">.30</text>
<use href="#cl" x="622.4" y="1046.8" width="48.4" height="46.2"/><circle cx="708.6" cy="1070" r="34" class="g"/><use href="#cr" x="746.1" y="1046.8" width="48.9" height="46.2"/>
<use href="#xh" x="644" y="1100" width="18" height="18"/>
<path d="M660.4,1169.8 V1122.9 H771.9 V1169.8 M660.4,1169.8 H666 M766.7,1169.8 H771.9" class="g"/>
<path d="M666,1128.4 H766.7 V1186 Q716,1192 666,1186 Z" class="g"/>
<text x="716.2" y="1151.5" text-anchor="middle" class="dm">.90</text>
<text transform="translate(734.5,1159.6) rotate(-90)" text-anchor="middle" class="dm">.55</text>
<text transform="translate(734.3,1207.5) rotate(-90)" text-anchor="middle" class="dm">.38</text>
<text transform="translate(734.3,1253) rotate(-90)" text-anchor="middle" class="dm">.40</text>
<text transform="translate(652,1220) rotate(-90)" text-anchor="middle" class="dm">.35</text>
<text transform="translate(652,1280) rotate(-90)" text-anchor="middle" class="dm">.47</text>
<use href="#cu" x="519" y="1176" width="44.5" height="49"/><circle cx="541.5" cy="1259" r="33.7" class="g"/>
<use href="#cl" x="455" y="1236.6" width="47.5" height="45.5"/><use href="#cr" x="580" y="1236.6" width="47" height="45.5"/>
<rect x="674.8" y="1232.3" width="88.2" height="44.7" class="g"/>
<use href="#cr" x="780.9" y="1228.5" width="50" height="48.8"/>
<g class="g"><path d="M819,813 A4,4 0 0 1 819,821 M819,922 A4,4 0 0 1 819,930 M819,1015 A4,4 0 0 1 819,1023 M836.4,1046 A4,4 0 0 1 836.4,1054 M836.4,1116 A4,4 0 0 1 836.4,1124 M836.4,1217 A4,4 0 0 1 836.4,1225"/></g>

<!-- ================= BOTTOM LEFT / ENTRANCE ================= -->
<use href="#sn" x="363.2" y="1188.3" width="14" height="14"/>
<g class="d"><path d="M220,1182 V1260 M275.1,1203.7 V1243"/></g>
<text transform="translate(220.1,1220) rotate(-90)" text-anchor="middle" class="dm">.70</text>
<text transform="translate(275.1,1222) rotate(-90)" text-anchor="middle" class="dm">.35</text>
<text x="448.6" y="1222" class="dm">5.94</text>
<rect x="107.7" y="1236.8" width="66.3" height="66.2" class="t"/>
<text x="114.4" y="1283" style="font-size:16.5px;fill:#666">tortas</text>
<text x="117" y="1300" class="dm" style="font-size:12px">.27</text>
<text x="110" y="1238" style="font-size:11px;fill:#444">10</text>
<rect x="201" y="1257.7" width="122.4" height="44.8" class="t"/>
<path d="M174.4,1301.6 L224.4,1265.4 L227,1269 L177,1305 Z" class="t"/>
<path d="M175,1239.8 Q200,1245 218.4,1260.7" class="d"/>
<text x="261.8" y="1300" text-anchor="middle" class="dm" style="font-size:12px">1.10</text>
<path d="M201,1296 H323.4 M478.5,1296 H791.6" class="d"/>
<text transform="translate(81.7,1273.6) rotate(-90)" text-anchor="middle" class="dm">.58</text>
<path d="M436.8,1209 A98,98 0 0 0 338.8,1307" class="d"/>
<rect x="433.4" y="1208.8" width="5" height="98.2" class="g"/>
<text x="456.6" y="1300.5" text-anchor="middle" class="dm" style="font-size:12px">.30</text>
<text x="623.2" y="1300.5" text-anchor="middle" class="dm" style="font-size:12px">2.81</text>
<text x="816.7" y="1300.5" text-anchor="middle" class="dm" style="font-size:12px">.44</text>
<circle cx="831" cy="1282.5" r="4" class="g"/><text x="826" y="1305" style="font-size:10px;fill:#999">F</text>

<!-- below facade -->
<g class="d">
<path d="M98,1330 V1433 M136,1330 V1374 M238.6,1330 V1374 M336.7,1330 V1374 M440.6,1330 V1374 M591,1330 V1374 M691,1330 V1374 M788,1330 V1374"/>
<path d="M136,1374 H440.6 M591,1374 H788"/>
<path d="M98,1433 H1101" style="stroke-dasharray:2.5 2"/>
</g>
<g class="g"><rect x="109.6" y="1343.5" width="9.3" height="86.2"/><rect x="460.6" y="1345" width="7.9" height="84.7"/><rect x="838.2" y="1345" width="7.9" height="84.7"/></g>
<text x="49" y="1353.5" style="font-size:16.7px;fill:#666">luz</text><text x="48.7" y="1373.5" style="font-size:16.7px;fill:#666">cartel</text>
<text x="478.5" y="1353.5" style="font-size:16.7px;fill:#666">luz</text><text x="478.5" y="1373.5" style="font-size:16.7px;fill:#666">cartel</text>
<text x="857.5" y="1354" style="font-size:16.6px;fill:#666">luz cartel</text>
<text x="141" y="1395" style="font-size:15px;fill:#666">CARTEL</text><text x="489.3" y="1395" style="font-size:15px;fill:#666">CARTEL</text><text x="851" y="1395" style="font-size:15px;fill:#666">CARTEL</text>
<g class="l"><path d="M118.2,1397.5 H204.2 M466,1397.5 H553 M844,1397.5 H913.4"/><circle cx="118.2" cy="1397.5" r="2.2"/><circle cx="466" cy="1397.5" r="2.2"/><circle cx="844" cy="1397.5" r="2.2"/></g>
<use href="#xh" x="66.2" y="1374.5" width="18" height="18"/><use href="#xh" x="283.3" y="1374.5" width="18" height="18"/>
<use href="#xh" x="453" y="1333.5" width="18" height="18"/><use href="#xh" x="666" y="1374.5" width="18" height="18"/>
<use href="#xh" x="832.8" y="1333.5" width="18" height="18"/><use href="#xh" x="918.7" y="1374.5" width="18" height="18"/>

<!-- ================= RIGHT LIST ================= -->
<g fill="none" stroke="#777" stroke-width="0.7">
<rect x="857.2" y="560" width="30.1" height="25.8"/><rect x="857.2" y="591.5" width="30.1" height="25.8"/><rect x="857.2" y="623.5" width="30.1" height="25.8"/><rect x="857.2" y="655.6" width="30.1" height="25.8"/><rect x="857.2" y="687.6" width="30.1" height="25.8"/><rect x="857.2" y="719.6" width="30.1" height="25.8"/><rect x="857.2" y="751.7" width="30.1" height="25.8"/><rect x="857.2" y="783.7" width="30.1" height="25.8"/><rect x="857.2" y="815.7" width="30.1" height="25.8"/><rect x="857.2" y="847.8" width="30.1" height="25.8"/><rect x="857.2" y="879.8" width="30.1" height="25.8"/><rect x="857.2" y="911.9" width="30.1" height="25.8"/><rect x="857.2" y="944.4" width="30.1" height="25.8"/><rect x="857.2" y="976.5" width="30.1" height="25.8"/><rect x="857.2" y="1008.5" width="30.1" height="25.8"/><rect x="857.2" y="1041.1" width="30.1" height="25.8"/><rect x="857.2" y="1073.1" width="30.1" height="25.8"/><rect x="857.2" y="1105.6" width="30.1" height="26.9"/><rect x="857.2" y="1146.9" width="30.1" height="25.9"/><rect x="857.2" y="1178.5" width="30.1" height="25.8"/><rect x="857.2" y="1210.5" width="30.1" height="25.8"/><rect x="857.2" y="1243.1" width="30.1" height="25.8"/><rect x="857.2" y="1274.6" width="30.1" height="25.8"/>
</g>
<g class="li" text-anchor="middle">
<text x="872.2" y="578.4">1</text><text x="872.2" y="609.9">2</text><text x="872.2" y="641.9">3</text><text x="872.2" y="674">4</text><text x="872.2" y="706">5</text><text x="872.2" y="738">6</text><text x="872.2" y="770.1">7</text><text x="872.2" y="802.1">8</text><text x="872.2" y="834.1">9</text><text x="872.2" y="866.2">10</text><text x="872.2" y="898.2">11</text><text x="872.2" y="930.3">12</text><text x="872.2" y="962.8">13</text><text x="872.2" y="994.9">14</text><text x="872.2" y="1026.9">15</text><text x="872.2" y="1059.5">16</text><text x="872.2" y="1091.5">17</text><text x="872.2" y="1123.5">18</text><text x="872.2" y="1164.9">19</text><text x="872.2" y="1196.9">20</text><text x="872.2" y="1228.9">21</text><text x="872.2" y="1261.5">22</text><text x="872.2" y="1293">23</text>
</g>
<g class="li">
<text x="892.7" y="578.4">EXHIBIDOR ALTO</text><text x="892.7" y="609.9">STOCK GASEOSAS</text><text x="892.7" y="641.9">STOCK SABORIZADAS</text><text x="892.7" y="674">ART LIMPIEZA DIARIA</text><text x="892.7" y="706">HELADERA ELABORAC</text><text x="892.7" y="738">LICUADORA</text><text x="892.7" y="770.1">JUGUERA</text><text x="892.7" y="802.1">HORNO B/MESADA</text><text x="892.7" y="834.1">ESCOBERO/LIMPIEZA</text><text x="892.7" y="866.2">VASERA</text><text x="892.7" y="898.2">ANAFE</text><text x="892.7" y="930.3">MICROONDA</text><text x="892.7" y="962.8">HORNO GRILL</text><text x="892.7" y="994.9">CARLITERA</text><text x="892.7" y="1026.9">CAFETERA</text><text x="892.7" y="1059.5">MOLINILLO</text><text x="892.7" y="1091.5">HELADERA B/MESADA</text><text x="892.7" y="1123.5">MUEBLE VAJILLERO</text><text x="892.7" y="1142.1">AZUCAR-CUBERTOS</text><text x="892.7" y="1167.4">ESQUELETO BANDEJAS</text><text x="892.7" y="1196.9">CAJON VERDURAS</text><text x="892.7" y="1228.9">BOTE ORGANICO (1)</text><text x="892.7" y="1261.5">BOTE RECICLABLE (1)</text><text x="892.7" y="1293">CAJONERA MOVIL</text>
</g>

<!-- ================= BOTTOM LEGEND ================= -->
<rect x="64.5" y="1444.5" width="268.5" height="79.7" fill="none" stroke="#333" stroke-width="0.7"/>
<circle cx="75.2" cy="1455.8" r="4.5" class="g"/>
<text x="86" y="1460.5" style="font-size:13.2px">MATAFUEGO</text>
<text x="70" y="1471.5" style="font-size:9px;fill:#888">F</text>
<rect x="68" y="1471" width="16" height="15" fill="none" stroke="#555" stroke-width="0.6"/>
<text x="76" y="1481" text-anchor="middle" style="font-size:5.5px;fill:#333">AA1</text>
<text x="86" y="1483.2" style="font-size:13.2px">AIRE ACONDICIONADO</text>
<use href="#sn" x="68" y="1487" width="14" height="14"/>
<text x="86" y="1499" style="font-size:13.2px">SENSOR DE PROXIMIDAD</text>
<g class="t"><path d="M69,1504 L81,1520 M81,1504 L69,1520"/><circle cx="75" cy="1512" r="1.8"/></g>
<text x="86" y="1517" style="font-size:13.2px">VENTILACION</text>

<rect x="453.4" y="1444.5" width="485" height="79.7" fill="none" stroke="#333" stroke-width="0.7"/>
<path d="M657.6,1444.5 V1524.2 M814.5,1444.5 V1524.2 M892.6,1444.5 V1512.8 M453.4,1512.8 H938.4" stroke="#333" stroke-width="0.6"/>
<path d="M453.4,1490.5 H938.4" stroke="#999" stroke-width="0.5"/>
<path d="M438.4,1492 H1046" stroke="#444" stroke-width="0.6" stroke-dasharray="4 2"/>
<text x="460.6" y="1475.5" style="font-size:13.8px;fill:#555">OBRA: LA PAMPA</text>
<text x="731.4" y="1475.5" text-anchor="middle" style="font-size:13.8px;fill:#555">MUEBLES</text>
<text class="sf" x="852.5" y="1483" text-anchor="middle" style="font-size:36px;fill:#777">M3</text>
<text class="sf" x="914" y="1483" text-anchor="middle" style="font-size:36px;fill:#777">8</text>
<text x="460.6" y="1507" style="font-size:13.8px;fill:#555">ETAPA : PROYECTO</text>
<text x="731.4" y="1507" text-anchor="middle" style="font-size:13.8px;fill:#555">MUEBLES 3</text>
<text x="853.5" y="1505" text-anchor="middle" style="font-size:7px">PLANO N°</text>
<text x="915" y="1505" text-anchor="middle" style="font-size:7px">VERSION</text>
<text x="674" y="1521.5" style="font-size:7.6px">Fecha: 2020-03-10    esc: 1:25</text>
<text x="828.8" y="1521.5" style="font-size:7.4px;fill:#777">arquitectoslif@gmail.com</text>
<rect x="942.7" y="1444.5" width="91.7" height="79.7" fill="none" stroke="#555" stroke-width="0.7"/>
<text x="988.6" y="1459" text-anchor="middle" style="font-size:7.5px;fill:#333;letter-spacing:2.6px">ESTUDIO</text>
<path d="M988.6,1474 C975,1462 950,1462 958,1472 C963,1480 980,1478 988.6,1474 C997,1478 1014,1480 1019,1472 C1027,1462 1002,1462 988.6,1474 Z" fill="none" stroke="#222" stroke-width="0.7"/>
<circle cx="988.6" cy="1474" r="1.5" fill="#000"/>
<text class="sf" x="988.6" y="1505" text-anchor="middle" style="font-size:30px;fill:none;stroke:#222;stroke-width:0.7">LIF</text>
<text x="988.6" y="1517" text-anchor="middle" style="font-size:6.2px;fill:#333;letter-spacing:1.8px">arquitectos</text>
<path d="M988.5,1430 V1537" stroke="#444" stroke-width="0.5" stroke-dasharray="6 2 1 2"/>
</svg>
</body></html>
